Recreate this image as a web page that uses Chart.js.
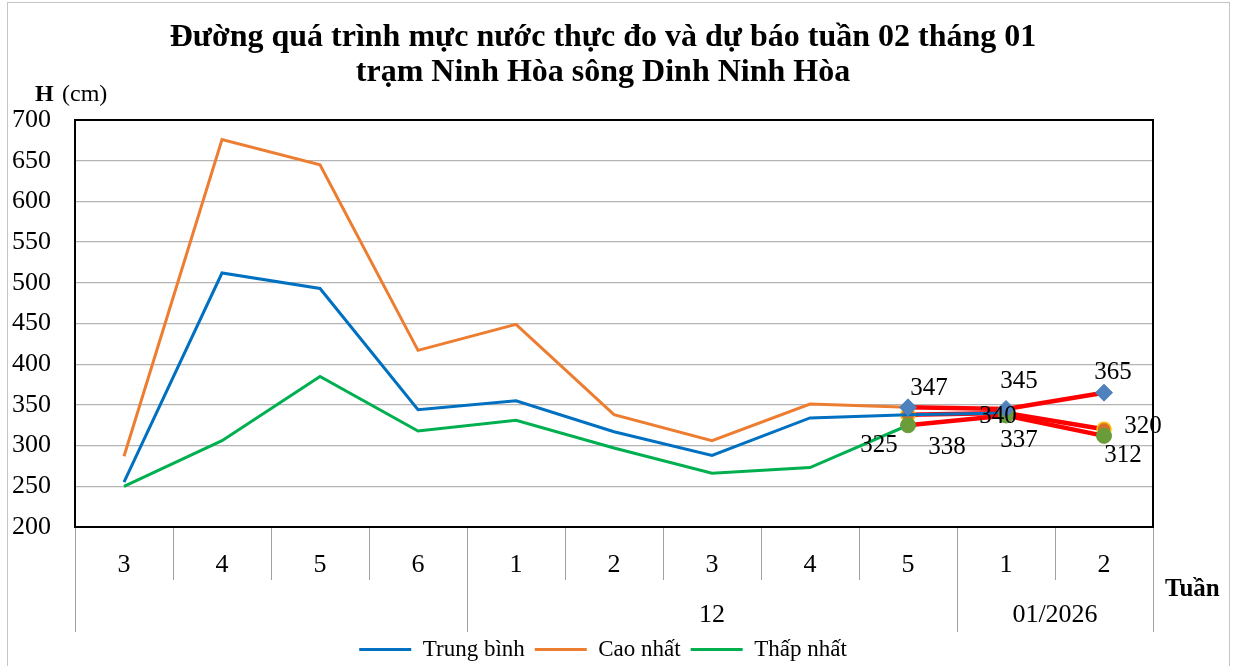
<!DOCTYPE html>
<html>
<head>
<meta charset="utf-8">
<script src="https://cdn.jsdelivr.net/npm/chart.js@4/dist/chart.umd.min.js"></script>
<style>
  html, body { margin: 0; padding: 0; background: #fff; }
  canvas { display: block; }
</style>
</head>
<body>
<canvas id="chart" width="1236" height="666"></canvas>
<script>
// week numbers along the x axis, and the month each run of weeks belongs to
const weeks = ['3', '4', '5', '6', '1', '2', '3', '4', '5', '1', '2'];
const months = [
    { label: '', from: 0, to: 3 },
    { label: '12', from: 4, to: 8 },
    { label: '01/2026', from: 9, to: 10 }
];

// measured water level (cm)
const trungBinh = [255, 512, 493, 344, 355, 317, 288, 334, 338, 340, null];
const caoNhat   = [287, 676, 645, 417, 449, 338, 306, 351, 347, null, null];
const thapNhat  = [250, 306, 385, 318, 331, 297, 266, 273, 325, null, null];

// forecast (red lines with markers)
const duBaoCao   = [null, null, null, null, null, null, null, null, 347, 345, 365];
const duBaoTB    = [null, null, null, null, null, null, null, null, 338, 340, 320];
const duBaoThap  = [null, null, null, null, null, null, null, null, 325, 337, 312];

// y axis
const yMin = 200, yMax = 700, yStep = 50;

const FONT = "'Liberation Serif', 'Times New Roman', serif";
Chart.defaults.font.family = FONT;
Chart.defaults.color = '#000';

// where each forecast value label sits relative to its point (px)
const labelShift = {
    3: [null, null, null, null, null, null, null, null, [21, -19], [13, -28], [9, -20]],
    4: [null, null, null, null, null, null, null, null, [39, 33], [-8, 3], [39, -3]],
    5: [null, null, null, null, null, null, null, null, [-29, 20], [13, 25], [19, 20]]
};

const extras = {
    id: 'extras',
    afterDraw(chart) {
        const { ctx, chartArea: a } = chart;
        const x = chart.scales.x;
        ctx.save();

        // outer frame
        ctx.strokeStyle = '#c4c4c4';
        ctx.lineWidth = 1;
        ctx.strokeRect(7.5, 2.5, 1222, 700);

        // plot frame
        ctx.strokeStyle = '#000';
        ctx.lineWidth = 2;
        ctx.strokeRect(a.left, a.top, a.right - a.left, a.bottom - a.top);

        // separators under the x axis
        const groupEdges = months.map(m => m.from).concat(weeks.length);
        ctx.strokeStyle = '#a0a0a0';
        ctx.lineWidth = 1;
        for (let i = 0; i <= weeks.length; i++) {
            const px = Math.round(x.getPixelForValue(i - 0.5)) + 0.5;
            const long = groupEdges.includes(i);
            ctx.beginPath();
            ctx.moveTo(px, a.bottom + 1);
            ctx.lineTo(px, a.bottom + (long ? 105 : 53));
            ctx.stroke();
        }

        // month labels
        ctx.fillStyle = '#000';
        ctx.font = '26px ' + FONT;
        ctx.textAlign = 'center';
        ctx.textBaseline = 'middle';
        months.forEach(m => {
            const cx = (x.getPixelForValue(m.from) + x.getPixelForValue(m.to)) / 2;
            ctx.fillText(m.label, cx, a.bottom + 88);
        });

        // axis names
        ctx.textAlign = 'left';
        ctx.textBaseline = 'alphabetic';
        ctx.font = 'bold 25px ' + FONT;
        ctx.fillText('Tuần', a.right + 12, a.bottom + 69);
        ctx.font = 'bold 24px ' + FONT;
        ctx.fillText('H', 35, 101);
        ctx.font = '24px ' + FONT;
        ctx.fillText('(cm)', 62, 101);

        // forecast value labels
        ctx.font = '25px ' + FONT;
        ctx.textAlign = 'center';
        ctx.textBaseline = 'middle';
        [3, 4, 5].forEach(di => {
            const meta = chart.getDatasetMeta(di);
            const values = chart.data.datasets[di].data;
            values.forEach((v, i) => {
                if (v === null) return;
                const pt = meta.data[i];
                const s = labelShift[di][i] || [0, -18];
                ctx.fillText(String(v), pt.x + s[0], pt.y + s[1]);
            });
        });

        ctx.restore();
    }
};

new Chart(document.getElementById('chart'), {
    type: 'line',
    data: {
        labels: weeks,
        datasets: [
            { label: 'Trung bình', data: trungBinh, borderColor: '#0070C0', backgroundColor: '#0070C0', borderWidth: 3, pointRadius: 0, order: 2 },
            { label: 'Cao nhất', data: caoNhat, borderColor: '#ED7D31', backgroundColor: '#ED7D31', borderWidth: 3, pointRadius: 0, order: 4 },
            { label: 'Thấp nhất', data: thapNhat, borderColor: '#00B050', backgroundColor: '#00B050', borderWidth: 3, pointRadius: 0, order: 5 },
            {
                label: 'Dự báo cao nhất', data: duBaoCao, borderColor: '#FF0000', borderWidth: 4.5,
                pointStyle: 'rectRot', pointRadius: 8.5, pointBackgroundColor: '#4F81BD', pointBorderColor: '#4F81BD', pointBorderWidth: 1, order: 0
            },
            {
                label: 'Dự báo trung bình', data: duBaoTB, borderColor: '#FF0000', borderWidth: 4.5,
                pointStyle: 'circle', pointRadius: 7, pointBackgroundColor: '#D2702C', pointBorderColor: '#FFC000', pointBorderWidth: 1.5, order: 3
            },
            {
                label: 'Dự báo thấp nhất', data: duBaoThap, borderColor: '#FF0000', borderWidth: 4.5,
                pointStyle: 'circle', pointRadius: 7.5, pointBackgroundColor: '#6A9C3A', pointBorderColor: '#6A9C3A', pointBorderWidth: 1, order: 1
            }
        ]
    },
    options: {
        responsive: false,
        animation: false,
        layout: { padding: { left: 10, right: 40, top: 0, bottom: -5 } },
        scales: {
            x: {
                offset: true,
                grid: { display: false, drawTicks: false },
                border: { display: false },
                ticks: { font: { size: 26 }, color: '#000', padding: 23, maxRotation: 0, autoSkip: false },
                afterFit: s => { s.height = 101; }
            },
            y: {
                min: yMin,
                max: yMax,
                ticks: { stepSize: yStep, font: { size: 26 }, color: '#000', padding: 24 },
                grid: { color: '#b4b4b4', lineWidth: 1.3, drawTicks: false },
                border: { display: false },
                afterFit: s => { s.width = 65; }
            },
            y2: {
                position: 'right',
                grid: { display: false, drawTicks: false },
                ticks: { display: false },
                border: { display: false },
                afterFit: s => { s.width = 43; }
            }
        },
        plugins: {
            title: {
                display: true,
                text: ['Đường quá trình mực nước thực đo và dự báo tuần 02 tháng 01', 'trạm Ninh Hòa sông Dinh Ninh Hòa'],
                font: { size: 32, weight: 'bold', lineHeight: 35 / 32 },
                color: '#000',
                padding: { top: 20, bottom: 30 }
            },
            legend: {
                position: 'bottom',
                labels: {
                    usePointStyle: true,
                    pointStyle: 'line',
                    pointStyleWidth: 52,
                    font: { size: 23 },
                    color: '#000',
                    padding: 10,
                    filter: item => item.datasetIndex < 3,
                    sort: (a, b) => a.datasetIndex - b.datasetIndex
                }
            },
            tooltip: { enabled: false }
        }
    },
    plugins: [extras]
});
</script>
</body>
</html>
